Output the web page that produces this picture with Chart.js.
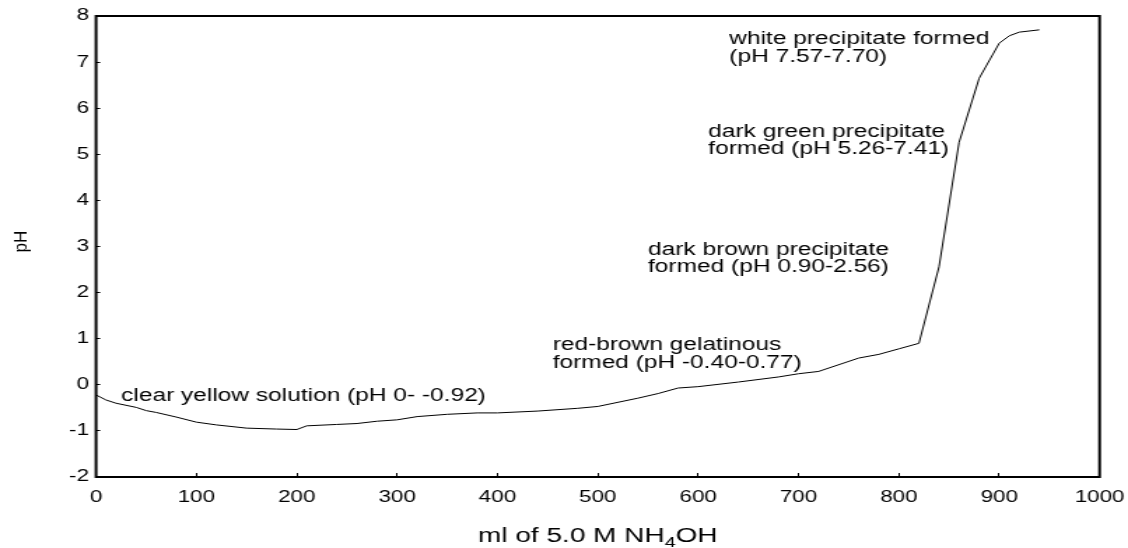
<!DOCTYPE html>
<html>
<head>
<meta charset="utf-8">
<script src="https://cdn.jsdelivr.net/npm/chart.js@4.4.1/dist/chart.umd.min.js"></script>
<style>
  html, body { margin: 0; padding: 0; background: #fff; overflow: hidden; }
</style>
</head>
<body>
<!-- the source figure has wide, stretched lettering, so the canvas is drawn narrow and stretched across -->
<canvas id="chart" width="806" height="548" style="display:block;width:1128px;height:548px"></canvas>
<script>
// ml of 5.0 M NH4OH added
const volume = [0, 10, 20, 40, 50, 60, 80, 100, 120, 150,
  180, 200, 210, 240, 260, 280, 300, 320, 350, 380,
  400, 440, 480, 500, 540, 560, 580, 600, 640, 680,
  700, 720, 760, 780, 800, 820, 840, 860, 880, 900,
  910, 920, 940];
// measured pH
const ph = [-0.22, -0.33, -0.40, -0.49, -0.56, -0.60, -0.70, -0.81, -0.87, -0.94,
  -0.96, -0.97, -0.89, -0.86, -0.84, -0.79, -0.76, -0.69, -0.64, -0.61,
  -0.61, -0.57, -0.51, -0.47, -0.29, -0.19, -0.07, -0.04, 0.06, 0.17,
  0.24, 0.29, 0.58, 0.66, 0.78, 0.90, 2.56, 5.26, 6.65, 7.41,
  7.57, 7.65, 7.70];

// notes written on the plot
const noteLines = [
  ["clear yellow solution (pH 0- -0.92)"],
  ["red-brown gelatinous", "formed (pH -0.40-0.77)"],
  ["dark brown precipitate", "formed (pH 0.90-2.56)"],
  ["dark green precipitate", "formed (pH 5.26-7.41)"],
  ["white precipitate formed", "(pH 7.57-7.70)"],
];
// where the first line of each note sits, in axis units
const noteAt = [[25, -0.24], [455, 0.85], [550, 2.93], [610, 5.49], [631, 7.50]];

const STRETCH = 1128 / 806;
const FAMILY = '"Liberation Sans", Arial, Helvetica, sans-serif';

//frame, notes and axis titles
const decor = {
  id: "decor",
  afterDraw(chart) {
    const { ctx, chartArea: a, scales: { x, y } } = chart;
    ctx.save();
    ctx.strokeStyle = "#000";
    ctx.lineWidth = 2;
    ctx.strokeRect(a.left, a.top, a.right - a.left, a.bottom - a.top);

    ctx.fillStyle = "#000";
    ctx.font = "17.5px " + FAMILY;
    ctx.textAlign = "left";
    ctx.textBaseline = "middle";
    noteLines.forEach((lines, i) => {
      const px = x.getPixelForValue(noteAt[i][0]);
      const py = y.getPixelForValue(noteAt[i][1]);
      lines.forEach((t, j) => ctx.fillText(t, px, py + j * 17.7));
    });

    // x title, with subscript 4
    ctx.textBaseline = "alphabetic";
    const big = "20px " + FAMILY, small = "14px " + FAMILY;
    ctx.font = big;
    const w1 = ctx.measureText("ml of 5.0 M NH").width;
    const w3 = ctx.measureText("OH").width;
    ctx.font = small;
    const w2 = ctx.measureText("4").width;
    let sx = (a.left + a.right) / 2 - (w1 + w2 + w3) / 2;
    ctx.font = big;
    ctx.fillText("ml of 5.0 M NH", sx, 541.5);
    ctx.font = small;
    ctx.fillText("4", sx + w1, 547);
    ctx.font = big;
    ctx.fillText("OH", sx + w1 + w2, 541.5);

    // y title, undo the stretch so it keeps its shape
    ctx.translate(15.5, 241.7);
    ctx.scale(1 / STRETCH, 1);
    ctx.rotate(-Math.PI / 2);
    ctx.font = "17px " + FAMILY;
    ctx.textAlign = "center";
    ctx.textBaseline = "middle";
    ctx.fillText("pH", 0, 0);
    ctx.restore();
  },
};

const tickFont = { family: FAMILY, size: 16 };
const plainNumber = (v) => String(v);

let myChart = new Chart(document.getElementById("chart"), {
  type: "scatter",
  data: {
    datasets: [
      {
        data: volume.map((v, i) => ({ x: v, y: ph[i] })),
        showLine: true,
        borderColor: "#000",
        borderWidth: 1,
        pointRadius: 0,
        tension: 0,
      },
    ],
  },
  options: {
    responsive: false,
    animation: false,
    devicePixelRatio: 1,
    layout: { padding: { top: 16, right: 20.3, left: 0, bottom: 0 } },
    plugins: {
      legend: { display: false },
      tooltip: { enabled: false },
    },
    scales: {
      x: {
        type: "linear",
        min: 0,
        max: 1000,
        ticks: { stepSize: 100, color: "#000", font: tickFont, padding: 15.4, maxRotation: 0, autoSkip: false, callback: plainNumber },
        grid: { drawOnChartArea: false, tickLength: -4, color: "#000" },
        border: { display: false },
        afterFit: (s) => { s.height = 71; s.paddingLeft = 0; s.paddingRight = 0; },
      },
      y: {
        min: -2,
        max: 8,
        ticks: { stepSize: 1, color: "#000", font: tickFont, padding: 8, callback: plainNumber },
        grid: { drawOnChartArea: false, tickLength: -3, color: "#000" },
        border: { display: false },
        afterFit: (s) => { s.width = 68.6; s.paddingTop = 0; s.paddingBottom = 0; },
      },
    },
  },
  plugins: [decor],
});
</script>
</body>
</html>
